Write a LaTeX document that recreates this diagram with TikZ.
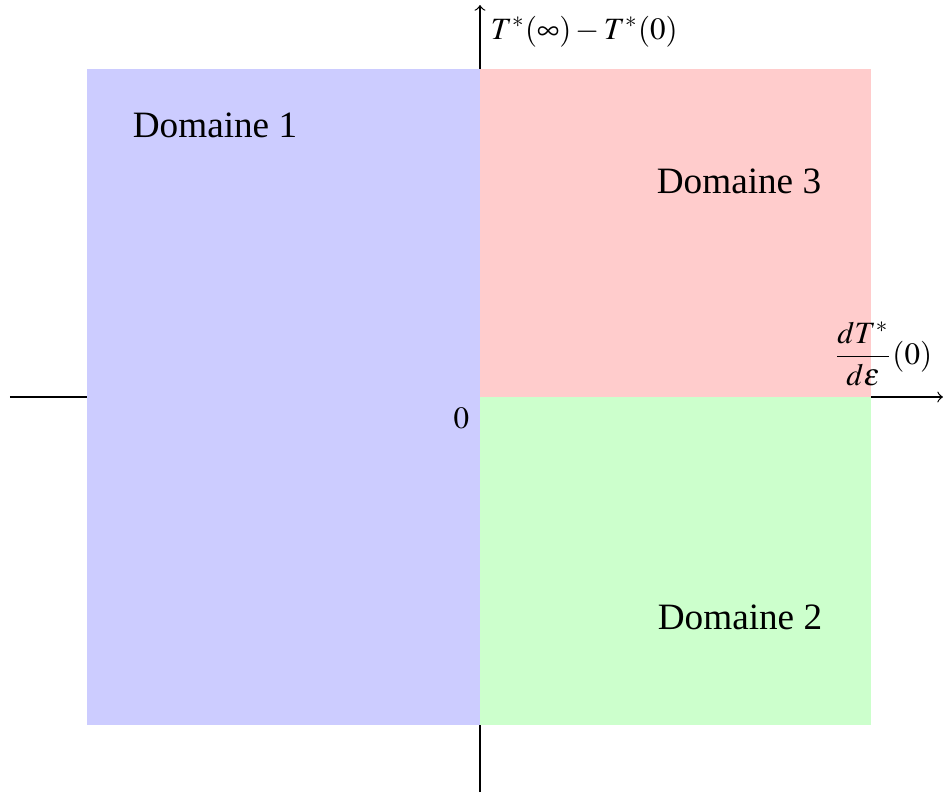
\documentclass[tikz,border=0pt]{standalone}
\usepackage{mathptmx}
\usepackage{fontspec}
\setmainfont{Liberation Serif}
\begin{document}
\begin{tikzpicture}[x=0.3226pt,y=-0.3226pt,
  axis/.style={draw=black,line width=0.4pt,->},
  region/.style={draw=none},
  dom/.style={font=\large,inner sep=0pt}]
\useasboundingbox (0,0) rectangle (943,794);
\coordinate (xs) at (10,397);
\coordinate (xe) at (943,397);
\coordinate (ys) at (480,792);
\coordinate (ye) at (480,5);
\coordinate (O) at (480,397);
\draw[axis] (xs) -- (xe);
\draw[axis] (ys) -- (ye);
\fill[region,blue!20] (87,69) rectangle (480,725);
\fill[region,red!20] (480,69) rectangle (871,397);
\fill[region,green!20] (480,397) rectangle (871,725);
\node[anchor=north west] (ylab) at (ye) {$T^*(\infty)-T^*(0)$};
\node[anchor=south east] (xlab) at (xe) {$\displaystyle\frac{dT^*}{d\varepsilon}(0)$};
\node[anchor=north east] (zero) at (O) {$0$};
\node[dom] (d1) at (215,125) {Domaine 1};
\node[dom] (d3) at (739,181) {Domaine 3};
\node[dom] (d2) at (740,617) {Domaine 2};
\end{tikzpicture}
\end{document}
